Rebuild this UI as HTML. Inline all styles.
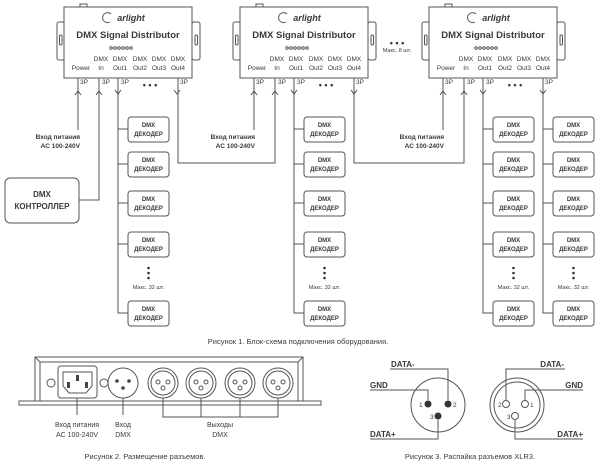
<!DOCTYPE html>
<html><head><meta charset="utf-8"><style>
html,body{margin:0;padding:0;background:#fff;}
svg{display:block;}
text{font-family:"Liberation Sans","Noto Sans CJK SC",sans-serif;fill:#3a3a3a;}
.b{font-weight:bold;}
</style></head><body>
<svg width="600" height="467" viewBox="0 0 600 467" xmlns="http://www.w3.org/2000/svg">
<defs>
<g id="dist" fill="none" stroke="#555" stroke-width="1">
  <rect x="80" y="4" width="7" height="3" fill="#fff"/>
  <rect x="57" y="22" width="8" height="38" rx="2" fill="#fff"/>
  <rect x="59.5" y="35" width="2.5" height="10" rx="1"/>
  <rect x="192" y="22" width="8" height="38" rx="2" fill="#fff"/>
  <rect x="195" y="35" width="2.5" height="10" rx="1"/>
  <rect x="64" y="7" width="128" height="71" fill="#fff"/>
  <circle cx="111" cy="48" r="1.3"/><circle cx="115" cy="48" r="1.3"/><circle cx="119" cy="48" r="1.3"/>
  <circle cx="123" cy="48" r="1.3"/><circle cx="127" cy="48" r="1.3"/><circle cx="131" cy="48" r="1.3"/>
  <path d="M110 22 a5 5 0 1 1 1 -8"/>
</g>
<g id="dec" fill="#fff" stroke="#555" stroke-width="1">
  <rect x="0" y="0" width="41" height="25" rx="3"/>
</g>
<path id="arU" d="M-3 4 L0 0 L3 4" fill="none" stroke="#555"/>
</defs>

<!-- Distributors -->
<g>
<use href="#dist"/>
<use href="#dist" x="176"/>
<use href="#dist" x="365"/>
</g>
<g font-size="8.5" text-anchor="middle">
  <text x="131" y="21" class="b" font-style="italic" font-size="9">arlight</text>
  <text x="307" y="21" class="b" font-style="italic" font-size="9">arlight</text>
  <text x="496" y="21" class="b" font-style="italic" font-size="9">arlight</text>
  <text x="128" y="38" class="b" font-size="9.5">DMX Signal Distributor</text>
  <text x="304" y="38" class="b" font-size="9.5">DMX Signal Distributor</text>
  <text x="493" y="38" class="b" font-size="9.5">DMX Signal Distributor</text>
</g>
<g font-size="6.5" text-anchor="middle">
  <g id="lbl1">
  <text x="101" y="61">DMX</text><text x="120" y="61">DMX</text><text x="140" y="61">DMX</text><text x="159" y="61">DMX</text><text x="178" y="61">DMX</text>
  <text x="81" y="70">Power</text><text x="101" y="70">In</text><text x="120" y="70">Out1</text><text x="140" y="70">Out2</text><text x="159" y="70">Out3</text><text x="178" y="70">Out4</text>
  </g>
  <g transform="translate(176,0)">
  <text x="101" y="61">DMX</text><text x="120" y="61">DMX</text><text x="140" y="61">DMX</text><text x="159" y="61">DMX</text><text x="178" y="61">DMX</text>
  <text x="81" y="70">Power</text><text x="101" y="70">In</text><text x="120" y="70">Out1</text><text x="140" y="70">Out2</text><text x="159" y="70">Out3</text><text x="178" y="70">Out4</text>
  </g>
  <g transform="translate(365,0)">
  <text x="101" y="61">DMX</text><text x="120" y="61">DMX</text><text x="140" y="61">DMX</text><text x="159" y="61">DMX</text><text x="178" y="61">DMX</text>
  <text x="81" y="70">Power</text><text x="101" y="70">In</text><text x="120" y="70">Out1</text><text x="140" y="70">Out2</text><text x="159" y="70">Out3</text><text x="178" y="70">Out4</text>
  </g>
</g>
<!-- 3P labels -->
<g font-size="6.5">
  <text x="80" y="84">3P</text><text x="102" y="84">3P</text><text x="121" y="84">3P</text><text x="180" y="84">3P</text>
  <text x="256" y="84">3P</text><text x="278" y="84">3P</text><text x="297" y="84">3P</text><text x="356" y="84">3P</text>
  <text x="445" y="84">3P</text><text x="467" y="84">3P</text><text x="486" y="84">3P</text><text x="545" y="84">3P</text>
</g>
<g font-size="9" class="b" text-anchor="middle">
  <text x="150" y="88" class="b">• • •</text>
  <text x="326" y="88" class="b">• • •</text>
  <text x="515" y="88" class="b">• • •</text>
  <text x="397" y="46" class="b">• • •</text>
</g>
<text x="397" y="52" font-size="5.5" text-anchor="middle">Макс. 8 шт.</text>

<!-- Connectors -->
<g fill="none" stroke="#555" stroke-width="1">
  <!-- power lines -->
  <path d="M78 78 V130"/><path d="M254 78 V130"/><path d="M443 78 V130"/>
  <!-- in lines -->
  <path d="M99 78 V200 H79"/>
  <path d="M178 78 V163 H275 V78"/>
  <path d="M354 78 V163 H464 V78"/>
  <!-- out1 decoder trunks -->
  <path d="M118 78 V313 H128 M118 129 H128 M118 164 H128 M118 203 H128 M118 244 H128"/>
  <path d="M294 78 V313 H304 M294 129 H304 M294 164 H304 M294 203 H304 M294 244 H304"/>
  <path d="M483 78 V313 H493 M483 129 H493 M483 164 H493 M483 203 H493 M483 244 H493"/>
  <path d="M543 78 V313 H553 M543 129 H553 M543 164 H553 M543 203 H553 M543 244 H553"/>
</g>
<!-- arrows -->
<g>
  <use href="#arU" x="78" y="91"/><use href="#arU" x="99" y="91"/>
  <use href="#arU" x="254" y="91"/><use href="#arU" x="275" y="91"/>
  <use href="#arU" x="443" y="91"/><use href="#arU" x="464" y="91"/>
  <path d="M115 90 L118 94 L121 90 M174 90 L177 94 L180 90 M291 90 L294 94 L297 90 M351 90 L354 94 L357 90 M480 90 L483 94 L486 90 M540 90 L543 94 L546 90" fill="none" stroke="#555"/>
</g>
<!-- power labels -->
<g font-size="6.5" class="b" text-anchor="end">
  <text x="80" y="139" class="b">Вход питания</text><text x="80" y="148" class="b">AC 100-240V</text>
  <text x="255" y="139" class="b">Вход питания</text><text x="255" y="148" class="b">AC 100-240V</text>
  <text x="444" y="139" class="b">Вход питания</text><text x="444" y="148" class="b">AC 100-240V</text>
</g>

<!-- controller -->
<rect x="5" y="178" width="74" height="45" rx="5" fill="#fff" stroke="#555"/>
<text x="42" y="197" font-size="8" class="b" text-anchor="middle">DMX</text>
<text x="42" y="209" font-size="8" class="b" text-anchor="middle">КОНТРОЛЛЕР</text>

<!-- decoders -->
<g>
  <use href="#dec" x="128" y="117"/><use href="#dec" x="128" y="152"/><use href="#dec" x="128" y="191"/><use href="#dec" x="128" y="232"/><use href="#dec" x="128" y="301"/>
  <use href="#dec" x="304" y="117"/><use href="#dec" x="304" y="152"/><use href="#dec" x="304" y="191"/><use href="#dec" x="304" y="232"/><use href="#dec" x="304" y="301"/>
  <use href="#dec" x="493" y="117"/><use href="#dec" x="493" y="152"/><use href="#dec" x="493" y="191"/><use href="#dec" x="493" y="232"/><use href="#dec" x="493" y="301"/>
  <use href="#dec" x="553" y="117"/><use href="#dec" x="553" y="152"/><use href="#dec" x="553" y="191"/><use href="#dec" x="553" y="232"/><use href="#dec" x="553" y="301"/>
</g>
<g font-size="6" class="b" text-anchor="middle">
  <text x="148.5" y="127" class="b">DMX</text><text x="148.5" y="136" class="b">ДЕКОДЕР</text>
  <text x="148.5" y="162" class="b">DMX</text><text x="148.5" y="171" class="b">ДЕКОДЕР</text>
  <text x="148.5" y="201" class="b">DMX</text><text x="148.5" y="210" class="b">ДЕКОДЕР</text>
  <text x="148.5" y="242" class="b">DMX</text><text x="148.5" y="251" class="b">ДЕКОДЕР</text>
  <text x="148.5" y="311" class="b">DMX</text><text x="148.5" y="320" class="b">ДЕКОДЕР</text>
  <text x="324.5" y="127" class="b">DMX</text><text x="324.5" y="136" class="b">ДЕКОДЕР</text>
  <text x="324.5" y="162" class="b">DMX</text><text x="324.5" y="171" class="b">ДЕКОДЕР</text>
  <text x="324.5" y="201" class="b">DMX</text><text x="324.5" y="210" class="b">ДЕКОДЕР</text>
  <text x="324.5" y="242" class="b">DMX</text><text x="324.5" y="251" class="b">ДЕКОДЕР</text>
  <text x="324.5" y="311" class="b">DMX</text><text x="324.5" y="320" class="b">ДЕКОДЕР</text>
  <text x="513.5" y="127" class="b">DMX</text><text x="513.5" y="136" class="b">ДЕКОДЕР</text>
  <text x="513.5" y="162" class="b">DMX</text><text x="513.5" y="171" class="b">ДЕКОДЕР</text>
  <text x="513.5" y="201" class="b">DMX</text><text x="513.5" y="210" class="b">ДЕКОДЕР</text>
  <text x="513.5" y="242" class="b">DMX</text><text x="513.5" y="251" class="b">ДЕКОДЕР</text>
  <text x="513.5" y="311" class="b">DMX</text><text x="513.5" y="320" class="b">ДЕКОДЕР</text>
  <text x="573.5" y="127" class="b">DMX</text><text x="573.5" y="136" class="b">ДЕКОДЕР</text>
  <text x="573.5" y="162" class="b">DMX</text><text x="573.5" y="171" class="b">ДЕКОДЕР</text>
  <text x="573.5" y="201" class="b">DMX</text><text x="573.5" y="210" class="b">ДЕКОДЕР</text>
  <text x="573.5" y="242" class="b">DMX</text><text x="573.5" y="251" class="b">ДЕКОДЕР</text>
  <text x="573.5" y="311" class="b">DMX</text><text x="573.5" y="320" class="b">ДЕКОДЕР</text>
</g>
<!-- vertical dots -->
<g fill="#333">
  <circle cx="148.5" cy="268" r="1.3"/><circle cx="148.5" cy="273" r="1.3"/><circle cx="148.5" cy="278" r="1.3"/>
  <circle cx="324.5" cy="268" r="1.3"/><circle cx="324.5" cy="273" r="1.3"/><circle cx="324.5" cy="278" r="1.3"/>
  <circle cx="513.5" cy="268" r="1.3"/><circle cx="513.5" cy="273" r="1.3"/><circle cx="513.5" cy="278" r="1.3"/>
  <circle cx="573.5" cy="268" r="1.3"/><circle cx="573.5" cy="273" r="1.3"/><circle cx="573.5" cy="278" r="1.3"/>
</g>
<g font-size="5.5" text-anchor="middle">
  <text x="148.5" y="289">Макс. 32 шт.</text><text x="324.5" y="289">Макс. 32 шт.</text>
  <text x="513.5" y="289">Макс. 32 шт.</text><text x="573.5" y="289">Макс. 32 шт.</text>
</g>
<text x="298" y="344" font-size="7.5" text-anchor="middle" fill="#555">Рисунок 1. Блок-схема подключения оборудования.</text>

<!-- Figure 2 -->
<g fill="none" stroke="#555" stroke-width="1">
  <rect x="35" y="357" width="268" height="44"/>
  <path d="M40 401 V362 H298 V401"/>
  <path d="M35 357 L40 362 M303 357 L298 362"/>
  <rect x="19" y="401" width="302" height="4" fill="#fff"/>
  <circle cx="51" cy="383" r="4"/><circle cx="104" cy="383" r="4"/>
  <rect x="58" y="366" width="39" height="32" rx="3"/>
  <path d="M63 372 H92 V386 L86 393 H69 L63 386 Z"/>
  <circle cx="123" cy="383" r="15"/>
  <circle cx="163" cy="383" r="15"/><circle cx="163" cy="383" r="12"/>
  <circle cx="201" cy="383" r="15"/><circle cx="201" cy="383" r="12"/>
  <circle cx="240" cy="383" r="15"/><circle cx="240" cy="383" r="12"/>
  <circle cx="278" cy="383" r="15"/><circle cx="278" cy="383" r="12"/>
  <circle cx="158" cy="382" r="2"/><circle cx="168" cy="382" r="2"/><circle cx="163" cy="388" r="2"/>
  <circle cx="196" cy="382" r="2"/><circle cx="206" cy="382" r="2"/><circle cx="201" cy="388" r="2"/>
  <circle cx="235" cy="382" r="2"/><circle cx="245" cy="382" r="2"/><circle cx="240" cy="388" r="2"/>
  <circle cx="273" cy="382" r="2"/><circle cx="283" cy="382" r="2"/><circle cx="278" cy="388" r="2"/>
  <path d="M77 398 V415 M123 398 V415 M163 398 V417 H278 V398 M201 398 V417 M240 398 V417"/>
</g>
<g fill="#444">
  <rect x="76" y="375" width="3" height="6"/><rect x="67" y="382" width="3" height="6"/><rect x="85" y="382" width="3" height="6"/>
  <circle cx="117" cy="381" r="1.8"/><circle cx="129" cy="381" r="1.8"/><circle cx="123" cy="388" r="1.8"/>
</g>
<g font-size="7" text-anchor="middle" fill="#555">
  <text x="77" y="427">Вход питания</text><text x="77" y="437">AC 100-240V</text>
  <text x="123" y="427">Вход</text><text x="123" y="437">DMX</text>
  <text x="220" y="427">Выходы</text><text x="220" y="437">DMX</text>
  <text x="145" y="459" font-size="7.5">Рисунок 2. Размещение разъемов.</text>
  <text x="470" y="459" font-size="7.5">Рисунок 3. Распайка разъемов XLR3.</text>
</g>

<!-- Figure 3 -->
<g fill="none" stroke="#555" stroke-width="1">
  <circle cx="438" cy="405" r="27"/>
  <path d="M390 369 H448 V400 M370 390 H428 V400 M370 439 H438 V420"/>
  <circle cx="517" cy="405" r="27"/><circle cx="517" cy="405" r="23"/>
  <path d="M565 369 H506 V400 M583 390 H525 V400 M583 439 H515 V420"/>
  <circle cx="506" cy="404" r="3.5" fill="#fff"/><circle cx="525" cy="404" r="3.5" fill="#fff"/><circle cx="515" cy="416" r="3.5" fill="#fff"/>
</g>
<g fill="#333">
  <circle cx="428" cy="404" r="3.5"/><circle cx="448" cy="404" r="3.5"/><circle cx="438" cy="416" r="3.5"/>
</g>
<g font-size="8" class="b">
  <text x="391" y="367" class="b">DATA-</text>
  <text x="370" y="388" class="b">GND</text>
  <text x="370" y="437" class="b">DATA+</text>
  <text x="564" y="367" class="b" text-anchor="end">DATA-</text>
  <text x="583" y="388" class="b" text-anchor="end">GND</text>
  <text x="583" y="437" class="b" text-anchor="end">DATA+</text>
</g>
<g font-size="6.5">
  <text x="419" y="407">1</text><text x="453" y="407">2</text><text x="430" y="419">3</text>
  <text x="498" y="407">2</text><text x="530" y="407">1</text><text x="507" y="419">3</text>
</g>
</svg>
</body></html>
